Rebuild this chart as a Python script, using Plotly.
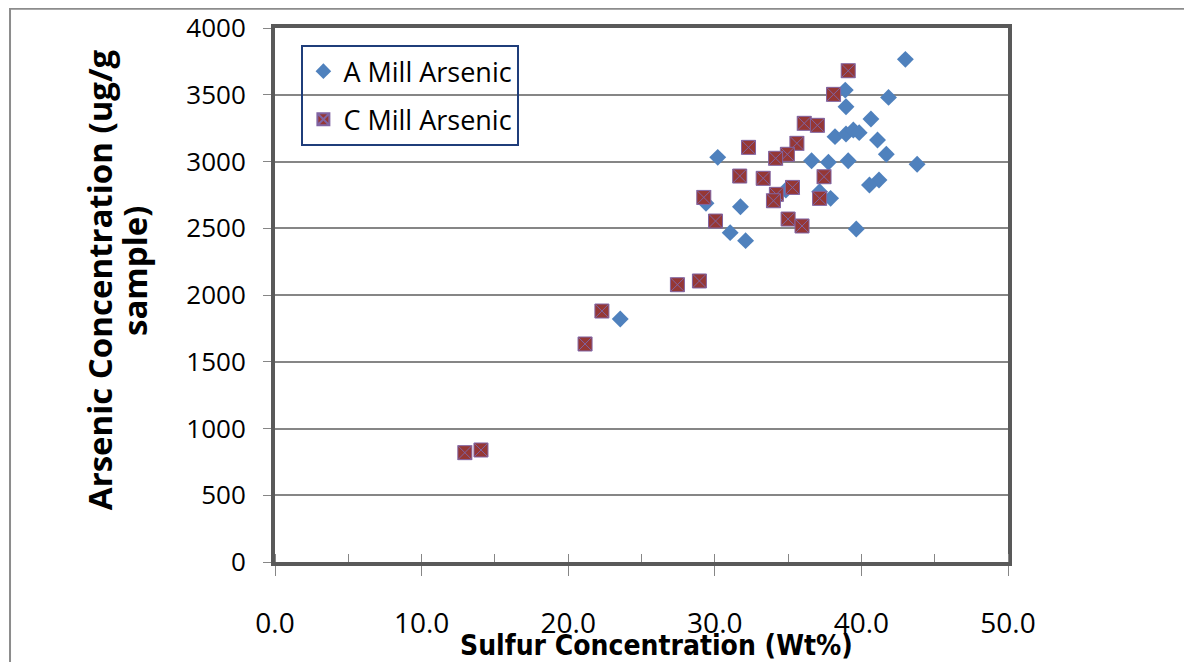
import plotly.graph_objects as go

# A Mill Arsenic (blue diamonds)
a_sulfur = [43.0, 38.9, 41.85, 38.95, 40.65, 38.2, 38.95, 39.45, 39.85, 41.1, 41.7, 43.8,
            30.2, 36.6, 37.75, 39.1, 41.2, 40.55, 34.85, 37.15, 37.9, 29.4, 31.75, 31.05,
            32.1, 39.65, 23.55]
a_arsenic = [3765, 3535, 3480, 3410, 3318, 3186, 3206, 3236, 3216, 3161, 3054, 2979,
             3031, 3006, 2994, 3006, 2861, 2824, 2786, 2774, 2724, 2687, 2661, 2467,
             2407, 2494, 1820]

# C Mill Arsenic (red squares)
c_sulfur = [39.1, 38.1, 36.1, 37.0, 32.3, 35.6, 34.95, 34.15, 31.7, 33.3, 37.45, 35.3,
            34.2, 34.0, 37.15, 29.25, 30.05, 35.0, 35.95, 27.45, 28.95, 22.3, 21.15,
            12.95, 14.05]
c_arsenic = [3680, 3503, 3286, 3271, 3106, 3136, 3054, 3024, 2891, 2874, 2886, 2806,
             2754, 2706, 2724, 2731, 2554, 2569, 2517, 2077, 2105, 1880, 1633, 819, 839]

x_ticks = [0, 10, 20, 30, 40, 50]
x_tick_labels = ["0.0", "10.0", "20.0", "30.0", "40.0", "50.0"]
y_ticks = [0, 500, 1000, 1500, 2000, 2500, 3000, 3500, 4000]

label_font = "Open Sans, DejaVu Sans, sans-serif"

fig = go.Figure()
fig.add_trace(go.Scatter(
    x=a_sulfur, y=a_arsenic, mode="markers", name="A Mill Arsenic",
    legendgroup="a",
    marker=dict(symbol="diamond", size=13, color="#4F81BD", line=dict(width=0)),
))
fig.add_trace(go.Scatter(
    x=c_sulfur, y=c_arsenic, mode="markers", name="C Mill Arsenic",
    legendgroup="c",
    marker=dict(symbol="square-x", size=14, color="#953735",
                line=dict(width=1, color="#8064A2")),
))

fig.update_layout(
    width=1176, height=654,
    margin=dict(l=267, r=176, t=20, b=100, autoexpand=False),
    paper_bgcolor="white", plot_bgcolor="white",
    showlegend=True,
    legend=dict(
        x=0.036, y=0.968, xanchor="left", yanchor="top",
        bgcolor="rgba(0,0,0,0)", bordercolor="#1F3D7A", borderwidth=2,
        font=dict(family=label_font, size=27, color="black"),
        tracegroupgap=10, itemsizing="constant",
    ),
    xaxis=dict(
        range=[0, 50], tickvals=x_ticks, ticktext=x_tick_labels,
        automargin=False,
        showgrid=False, zeroline=False,
        showline=True, mirror=True, linecolor="#595959", linewidth=4,
        ticks="outside", ticklen=10, tickcolor="#868686", tickwidth=1,
        ticklabelstandoff=23,
        tickfont=dict(family=label_font, size=28, color="black"),
        minor=dict(dtick=5, ticks="inside", ticklen=8, tickcolor="#868686", showgrid=False),
    ),
    yaxis=dict(
        range=[0, 4000], tickvals=y_ticks,
        automargin=False,
        showgrid=True, gridcolor="#868686", gridwidth=2, zeroline=False,
        showline=True, mirror=True, linecolor="#595959", linewidth=4,
        ticks="outside", ticklen=8, tickcolor="#868686", tickwidth=1,
        ticklabelstandoff=12,
        tickfont=dict(family=label_font, size=26, color="black"),
    ),
    annotations=[
        dict(text="<b>Sulfur Concentration (Wt%)</b>", xref="paper", yref="paper",
             x=0.52, y=-0.157, xanchor="center", yanchor="middle", showarrow=False,
             font=dict(family="DejaVu Sans Condensed, Open Sans, sans-serif", size=28, color="black")),
        dict(text="<b>Arsenic Concentration (ug/g</b>", xref="paper", yref="paper",
             x=-0.24, y=0.528, xanchor="center", yanchor="middle", showarrow=False,
             textangle=-90,
             font=dict(family=label_font, size=33, color="black")),
        dict(text="<b>sample)</b>", xref="paper", yref="paper",
             x=-0.191, y=0.545, xanchor="center", yanchor="middle", showarrow=False,
             textangle=-90,
             font=dict(family=label_font, size=33, color="black")),
    ],
    shapes=[
        dict(type="rect", xref="paper", yref="paper",
             x0=-0.3615, x1=1.3, y0=-0.3, y1=1.036,
             line=dict(color="#8c8c8c", width=2), fillcolor="rgba(0,0,0,0)", layer="below"),
    ],
)

fig.write_html("out.html")
